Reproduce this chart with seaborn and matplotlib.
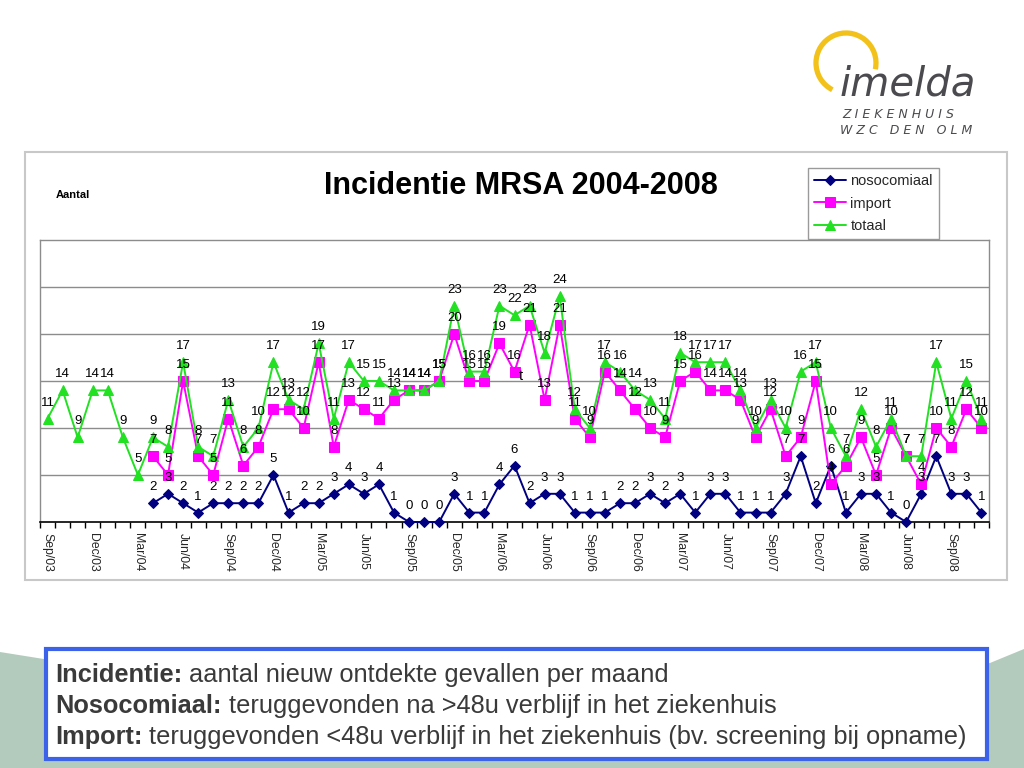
import numpy as np
import pandas as pd
import matplotlib
matplotlib.use("Agg")
import matplotlib.pyplot as plt
from matplotlib.patches import Rectangle, Polygon, Arc
import seaborn as sns

# ── Data ──────────────────────────────────────────
months = list(pd.date_range("2003-09-01", periods=63, freq="MS").strftime("%b/%y"))

totaal = [11, 14, 9, 14, 14, 9, 5,
          9, 8, 17, 8, 7, 13, 8, 10, 17,
          13, 12, 19, 11, 17, 15, 15, 14, 14, 14, 15,
          23, 16, 16, 23, 22, 23, 18, 24, 12, 10,
          17, 16, 14, 13, 11, 18, 17, 17, 17, 14,
          10, 13, 10, 16, 17, 10, 7, 12, 8, 11,
          7, 7, 17, 11, 15, 11]

# import and nosocomiaal are registered from Apr/04 on
no_data = [np.nan] * 7
import_ = no_data + [7, 5, 15, 7, 5, 11, 6, 8, 12,
                     12, 10, 17, 8, 13, 12, 11, 13, 14, 14, 15,
                     20, 15, 15, 19, 16, 21, 13, 21, 11, 9,
                     16, 14, 12, 10, 9, 15, 16, 14, 14, 13,
                     9, 12, 7, 9, 15, 4, 6, 9, 5, 10,
                     7, 4, 10, 8, 12, 10]
nosocomiaal = no_data + [2, 3, 2, 1, 2, 2, 2, 2, 5,
                         1, 2, 2, 3, 4, 3, 4, 1, 0, 0, 0,
                         3, 1, 1, 4, 6, 2, 3, 3, 1, 1,
                         1, 2, 2, 3, 2, 3, 1, 3, 3, 1,
                         1, 1, 3, 7, 2, 6, 1, 3, 3, 1,
                         0, 3, 7, 3, 3, 1]

df = pd.DataFrame({"maand": np.arange(len(months)), "label": months,
                   "nosocomiaal": nosocomiaal, "import": import_, "totaal": totaal})

series = [("nosocomiaal", "#000080", "D", 5.5),
          ("import", "#ff00ff", "s", 6.5),
          ("totaal", "#22e022", "^", 7)]

# ── Figure ────────────────────────────────────────
sns.set_theme(style="white")
plt.rcParams["font.family"] = ["Liberation Sans", "DejaVu Sans"]

fig = plt.figure(figsize=(10.24, 7.68), dpi=100)
fig.patch.set_facecolor("white")

# slide layer in pixel coordinates (y pointing down)
bg = fig.add_axes([0, 0, 1, 1], zorder=0)
bg.set_xlim(0, 1024)
bg.set_ylim(768, 0)
bg.axis("off")

# sage shape at the bottom of the slide
bg.add_patch(Polygon([(0, 652), (300, 700), (700, 700), (990, 663), (1024, 649),
                      (1024, 768), (0, 768)], closed=True, facecolor="#b3cbbd",
                     edgecolor="none"))

# chart frame
bg.add_patch(Rectangle((25, 152), 982, 428, facecolor="white",
                       edgecolor="#c8c8c8", lw=1.5))

bg.text(521, 186, "Incidentie MRSA 2004-2008", ha="center", va="center",
        fontsize=22, fontweight="bold", color="black")
bg.text(56, 195, "Aantal", ha="left", va="center", fontsize=8,
        fontweight="bold", color="black")

# logo (angles flipped because the y axis points down)
bg.add_patch(Arc((846, 63), 60, 60, theta1=117, theta2=372, color="#f3c21a", lw=3.8))
bg.text(840, 96, "imelda", ha="left", va="baseline", fontsize=29,
        style="italic", color="#4b4b4f", family=["DejaVu Sans"], fontweight="light")
bg.text(842, 118, "Z I E K E N H U I S", ha="left", va="baseline", fontsize=9,
        style="italic", color="#4b4b4f", family=["DejaVu Sans"])
bg.text(840, 134, "W Z C   D E N   O L M", ha="left", va="baseline", fontsize=9,
        style="italic", color="#4b4b4f", family=["DejaVu Sans"])

# definitions box
bg.add_patch(Rectangle((46, 649), 941, 110, facecolor="white",
                       edgecolor="#3b62e8", lw=3, zorder=3))
defs = [("Incidentie:", " aantal nieuw ontdekte gevallen per maand", 682),
        ("Nosocomiaal:", " teruggevonden na >48u verblijf in het ziekenhuis", 713),
        ("Import:", " teruggevonden <48u verblijf in het ziekenhuis (bv. screening bij opname)", 744)]
for bold, rest, y in defs:
    t = bg.text(55, y, bold, ha="left", va="baseline", fontsize=18.3,
                fontweight="bold", color="#3a3a3a", zorder=4)
    bg.annotate(rest, xy=(1, 0), xycoords=t, ha="left", va="bottom",
                fontsize=18.3, color="#3a3a3a", zorder=4)

# ── Line chart ────────────────────────────────────
ax = fig.add_axes([40 / 1024, 1 - 522 / 768, 949 / 1024, 282 / 768], zorder=1)
ax.set_facecolor("white")

for name, color, marker, ms in series:
    sns.lineplot(data=df, x="maand", y=name, ax=ax, color=color, marker=marker,
                 markersize=ms, markeredgecolor=color, markerfacecolor=color,
                 linewidth=1.4, label=name, clip_on=False, zorder=3)
    for xi, v in zip(df["maand"], df[name]):
        if not np.isnan(v):
            ax.annotate(f"{int(v)}", xy=(xi, v), xytext=(0, 16),
                        textcoords="offset pixels", ha="center", va="center",
                        fontsize=9.5, color="black", annotation_clip=False, zorder=4)

# stray label in the original slide
ax.text(31.4, 15.5, "t", ha="center", va="center", fontsize=10.5, color="black")

ax.set_xlim(-0.5, len(months) - 0.5)
ax.set_ylim(0, 30)
ax.set_yticks([5, 10, 15, 20, 25])
ax.set_yticklabels([])
ax.tick_params(axis="y", length=0)
ax.grid(axis="y", color="#8c8c8c", lw=1)
ax.set_axisbelow(True)

ax.set_xticks(df["maand"][::3])
ax.set_xticklabels(df["label"][::3], rotation=-90, fontsize=8.8)
ax.set_xticks(np.arange(len(months) + 1) - 0.5, minor=True)
ax.tick_params(axis="x", which="major", length=0, pad=8)
ax.tick_params(axis="x", which="minor", length=4, width=1, color="black",
               direction="out", bottom=True)
ax.set_xlabel("")
ax.set_ylabel("")

for side in ["top", "left", "right"]:
    ax.spines[side].set_color("#8c8c8c")
    ax.spines[side].set_linewidth(1)
ax.spines["bottom"].set_color("black")
ax.spines["bottom"].set_linewidth(1.2)

h, l = ax.get_legend_handles_labels()
ax.get_legend().remove()
bg.legend(h, l, loc="upper left", bbox_to_anchor=(808, 168),
          bbox_transform=bg.transData, borderaxespad=0, fontsize=10.5,
          frameon=True, fancybox=False, edgecolor="#9a9a9a", framealpha=1,
          handlelength=2.2, borderpad=0.4, labelspacing=0.6, handletextpad=0.3)

fig.savefig("out.png", dpi=100)
print("saved out.png")
